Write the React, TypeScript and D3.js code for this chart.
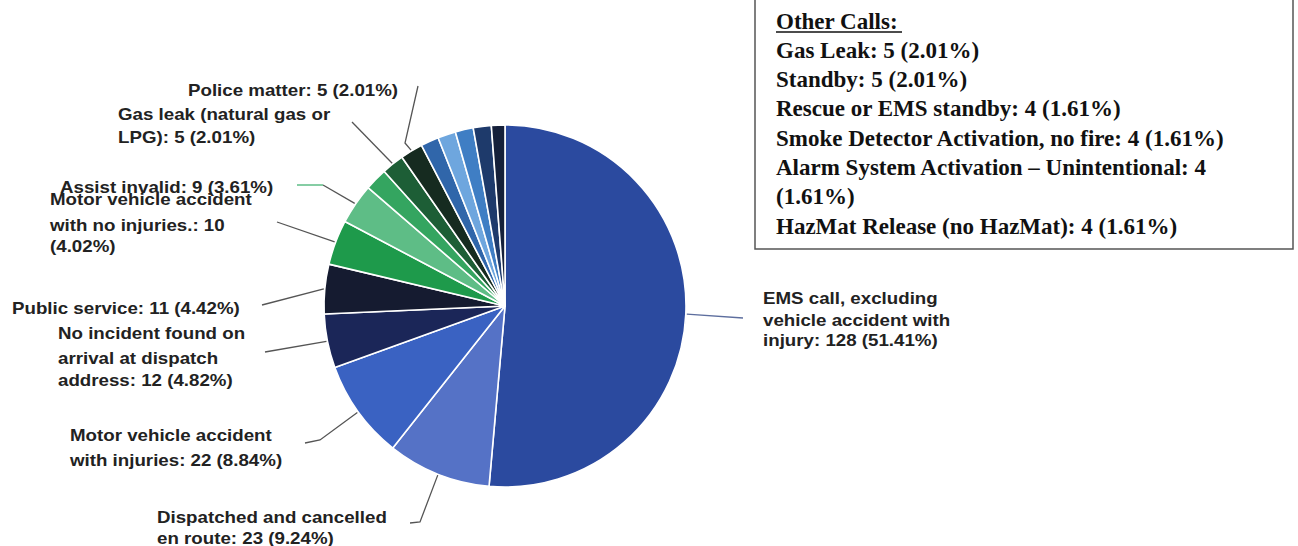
import React from "react";
import * as d3 from "d3";

// ---------- data ----------
const categories = [
  "EMS call, excluding vehicle accident with injury",
  "Dispatched and cancelled en route",
  "Motor vehicle accident with injuries",
  "No incident found on arrival at dispatch address",
  "Public service",
  "Motor vehicle accident with no injuries",
  "Assist invalid",
  "Other call A",
  "Gas leak (natural gas or LPG)",
  "Police matter",
  "Other call B",
  "Other call C",
  "Other call D",
  "Other call E",
  "Other call F",
];
const values = [128, 23, 22, 12, 11, 10, 9, 5, 5, 5, 4, 4, 4, 4, 3];
const sliceColors = [
  "#2b4a9f", "#5572c6", "#3a62c2", "#1b2658", "#151b30",
  "#1e9a4b", "#5ebd86", "#34a560", "#1d5e36", "#162b20",
  "#3066aa", "#6ea6de", "#3f7ec4", "#1e3a6b", "#15203a",
];
const labelLines: string[][] = [
  ["EMS call, excluding", "vehicle accident with", "injury: 128 (51.41%)"],
  ["Dispatched and cancelled", "en route: 23 (9.24%)"],
  ["Motor vehicle accident", "with injuries: 22 (8.84%)"],
  ["No incident found on", "arrival at dispatch", "address: 12 (4.82%)"],
  ["Public service: 11 (4.42%)"],
  ["Motor vehicle accident", "with no injuries.: 10", "(4.02%)"],
  ["Assist invalid: 9 (3.61%)"],
  [],
  ["Gas leak (natural gas or", "LPG): 5 (2.01%)"],
  ["Police matter: 5 (2.01%)"],
  [], [], [], [], [],
];
const otherCallsTitle = "Other Calls:";
const otherCalls = [
  "Gas Leak: 5 (2.01%)",
  "Standby: 5 (2.01%)",
  "Rescue or EMS standby: 4 (1.61%)",
  "Smoke Detector Activation, no fire: 4 (1.61%)",
  "Alarm System Activation \u2013 Unintentional: 4",
  "(1.61%)",
  "HazMat Release (no HazMat): 4 (1.61%)",
];

// ---------- layout ----------
const W = 1298, H = 546;
const CX = 505, CY = 306, R = 181;
const labelLayout: Record<number, { x: number; ys: number[]; leader: number[][] }> = {
  0: { x: 763, ys: [304, 326, 346], leader: [[743, 318]] },
  1: { x: 157, ys: [523, 544], leader: [[420, 522], [410, 523]] },
  2: { x: 70, ys: [441, 466], leader: [[320, 440], [305, 443]] },
  3: { x: 58, ys: [339, 364, 386], leader: [[265, 352]] },
  4: { x: 12, ys: [314], leader: [[262, 305]] },
  5: { x: 50, ys: [205, 231, 252], leader: [[277, 222]] },
  6: { x: 60, ys: [193], leader: [[323, 185]] },
  8: { x: 118, ys: [120, 143], leader: [[352, 122]] },
  9: { x: 188, ys: [96], leader: [[405, 143], [418, 86]] },
};
const SX = 1.17;

export default function App() {
  const pie = d3.pie<number>().sort(null).value((d) => d);
  const arcs = pie(values);
  const arc = d3.arc<d3.PieArcDatum<number>>().innerRadius(0).outerRadius(R);
  const edge = d3.arc<d3.PieArcDatum<number>>().innerRadius(R + 1).outerRadius(R + 1);
  const line = d3.line();

  return (
    <svg
      width={W}
      height={H}
      style={{ position: "absolute", left: 0, top: 0, background: "#fff", display: "block" }}
    >
      <rect x={0} y={0} width={W} height={H} fill="#fff" />
      <g transform={`translate(${CX},${CY})`}>
        {arcs.map((a, i) => (
          <path key={i} d={arc(a) || ""} fill={sliceColors[i]} stroke="#fff" strokeWidth={1.6} strokeLinejoin="round" />
        ))}
      </g>
      {arcs.map((a, i) => {
        const lay = labelLayout[i];
        if (!lay) return null;
        const [ex, ey] = edge.centroid(a);
        const pts: [number, number][] = [[CX + ex, CY + ey], ...lay.leader.map((p) => [p[0], p[1]] as [number, number])];
        return (
          <path key={"l" + i} d={line(pts) || ""} fill="none" stroke={i === 0 ? "#5d6e9e" : "#555"} strokeWidth={1.3} />
        );
      })}
      {/* small coloured tick next to "Assist invalid" */}
      <line x1={297} y1={185} x2={323} y2={185} stroke={sliceColors[6]} strokeWidth={1.5} />
      {labelLines.map((lines, i) => {
        const lay = labelLayout[i];
        if (!lay || lines.length === 0) return null;
        return (
          <g key={"t" + i}>
            {lines.map((t, j) => (
              <text
                key={j}
                transform={`translate(${lay.x},${lay.ys[j]}) scale(${SX},1)`}
                fontFamily="'Liberation Sans', Arial, sans-serif"
                fontWeight="bold"
                fontSize={16}
                fill="#222"
              >
                {t}
              </text>
            ))}
          </g>
        );
      })}
      {/* Other calls box */}
      <rect x={755} y={-4} width={538} height={253} fill="#fff" stroke="#555" strokeWidth={1.5} />
      <g fontFamily="'Liberation Serif', 'Times New Roman', serif" fontWeight="bold" fontSize={23} fill="#111">
        <text x={776} y={28.5}>{otherCallsTitle}</text>
        <line x1={776} y1={32} x2={902} y2={32} stroke="#111" strokeWidth={1.5} />
        {otherCalls.map((t, i) => (
          <text key={i} x={776} y={28.5 + (i + 1) * 29.3}>{t}</text>
        ))}
      </g>
    </svg>
  );
}
